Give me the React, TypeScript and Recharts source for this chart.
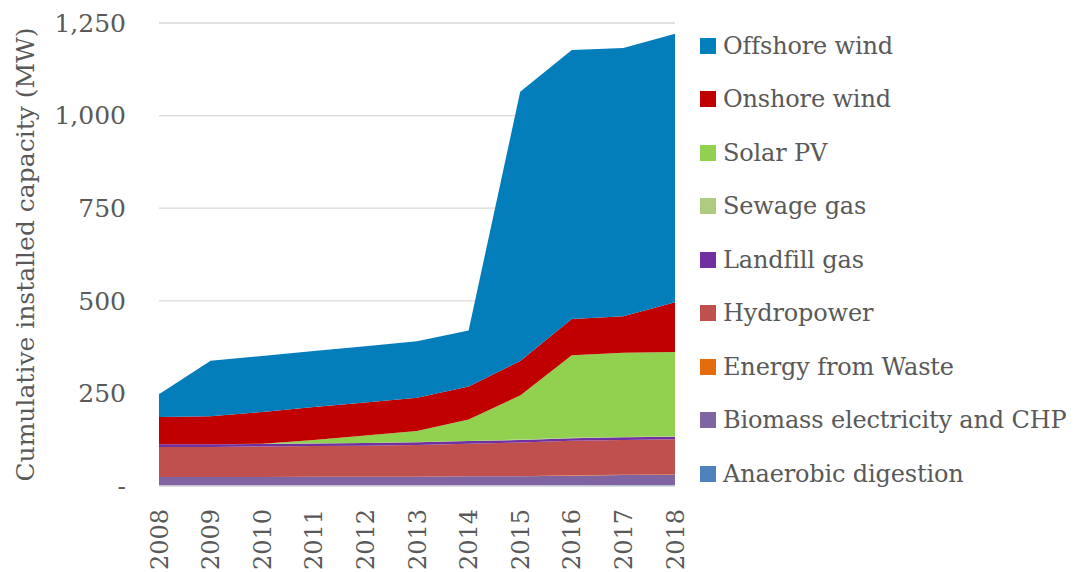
import React from 'react';
import { AreaChart, Area, XAxis, YAxis, CartesianGrid } from 'recharts';

const years = ['2008', '2009', '2010', '2011', '2012', '2013', '2014', '2015', '2016', '2017', '2018'];

const anaerobicDigestion = [0.5, 0.5, 0.6, 0.7, 0.8, 1, 1.2, 1.5, 2, 2.5, 3];
const biomassCHP = [24, 24, 24, 24, 24, 24, 25, 25, 26, 27, 27];
const energyFromWaste = [0, 0, 0, 0, 0, 0, 0, 0, 1, 1, 1];
const hydropower = [81, 81, 82, 83, 84, 86, 88, 91, 93, 94, 95];
const landfillGas = [7, 7, 7, 7, 7, 7, 7, 7, 7, 7, 7];
const sewageGas = [0.5, 0.5, 0.5, 0.5, 0.5, 0.5, 0.5, 1, 1, 1, 1];
const solarPV = [0, 0, 0, 9, 20, 30, 58, 119, 223, 227, 228];
const onshoreWind = [73, 75, 86, 89, 89, 90, 89, 93, 98, 99, 134];
const offshoreWind = [62, 150, 151, 151, 152, 152, 151, 727, 726, 724, 725];

const yTicks = [0, 250, 500, 750, 1000, 1250];

// bottom-to-top stacking order
const series = [
  { key: 'ad', name: 'Anaerobic digestion', color: '#4F81BD', values: anaerobicDigestion },
  { key: 'bio', name: 'Biomass electricity and CHP', color: '#8064A2', values: biomassCHP },
  { key: 'efw', name: 'Energy from Waste', color: '#E46C0A', values: energyFromWaste },
  { key: 'hydro', name: 'Hydropower', color: '#C0504D', values: hydropower },
  { key: 'landfill', name: 'Landfill gas', color: '#7030A0', values: landfillGas },
  { key: 'sewage', name: 'Sewage gas', color: '#AFCB7F', values: sewageGas },
  { key: 'solar', name: 'Solar PV', color: '#92D050', values: solarPV },
  { key: 'onshore', name: 'Onshore wind', color: '#C00000', values: onshoreWind },
  { key: 'offshore', name: 'Offshore wind', color: '#037EBA', values: offshoreWind },
];

const data = years.map((y, i) => {
  const row: Record<string, string | number> = { year: y };
  series.forEach((s) => {
    row[s.key] = s.values[i];
  });
  return row;
});

const FONT = '"DejaVu Serif", serif';
const TEXT = '#595959';

const XTick = (props: any) => {
  const { x, y, payload } = props;
  return (
    <text
      x={x}
      y={y + 15}
      transform={`rotate(-90, ${x}, ${y + 15})`}
      textAnchor="end"
      dy="0.36em"
      fill={TEXT}
      fontFamily={FONT}
      fontSize={24}
    >
      {payload.value}
    </text>
  );
};

const fmtY = (v: number) => (v === 0 ? '-' : v.toLocaleString('en-US'));

const LegendBlock = () => (
  <div
    style={{
      position: 'absolute',
      left: 692,
      top: 11,
      width: 370,
      fontFamily: FONT,
      fontSize: 24,
      letterSpacing: '-0.15px',
      color: TEXT,
    }}
  >
    {[...series].reverse().map((s) => (
      <div key={s.key} style={{ display: 'flex', alignItems: 'center', height: 53.5 }}>
        <span
          style={{
            display: 'inline-block',
            flexShrink: 0,
            width: 16,
            height: 16,
            background: s.color,
            marginRight: 7,
          }}
        />
        <span style={{ whiteSpace: 'nowrap' }}>{s.name}</span>
      </div>
    ))}
  </div>
);

export default function App() {
  return (
    <div style={{ position: 'relative', width: 1060, height: 564 }}>
      <AreaChart
        width={1060}
        height={564}
        data={data}
        margin={{ top: 15, right: 393, bottom: 0, left: 0 }}
      >
        <CartesianGrid vertical={false} stroke="#D9D9D9" strokeWidth={1.3} />
        <XAxis
          dataKey="year"
          height={86}
          tick={<XTick />}
          tickLine={false}
          axisLine={{ stroke: '#D9D9D9', strokeWidth: 1.3 }}
          interval={0}
        />
        <YAxis
          width={151}
          domain={[0, 1250]}
          ticks={yTicks}
          tickFormatter={fmtY}
          tickLine={false}
          axisLine={false}
          tickMargin={27}
          tick={{ fill: TEXT, fontFamily: FONT, fontSize: 25 }}
          label={{
            content: (p: any) => {
              const vb = p.viewBox;
              const cx = 26;
              const cy = vb.y + vb.height / 2;
              return (
                <text
                  x={cx}
                  y={cy}
                  transform={`rotate(-90, ${cx}, ${cy})`}
                  textAnchor="middle"
                  fill={TEXT}
                  fontFamily={FONT}
                  fontSize={25}
                >
                  Cumulative installed capacity (MW)
                </text>
              );
            },
          }}
        />
        {series.map((s) => (
          <Area
            key={s.key}
            dataKey={s.key}
            name={s.name}
            stackId="1"
            type="linear"
            fill={s.color}
            fillOpacity={1}
            stroke="none"
            isAnimationActive={false}
          />
        ))}
      </AreaChart>
      <LegendBlock />
    </div>
  );
}
